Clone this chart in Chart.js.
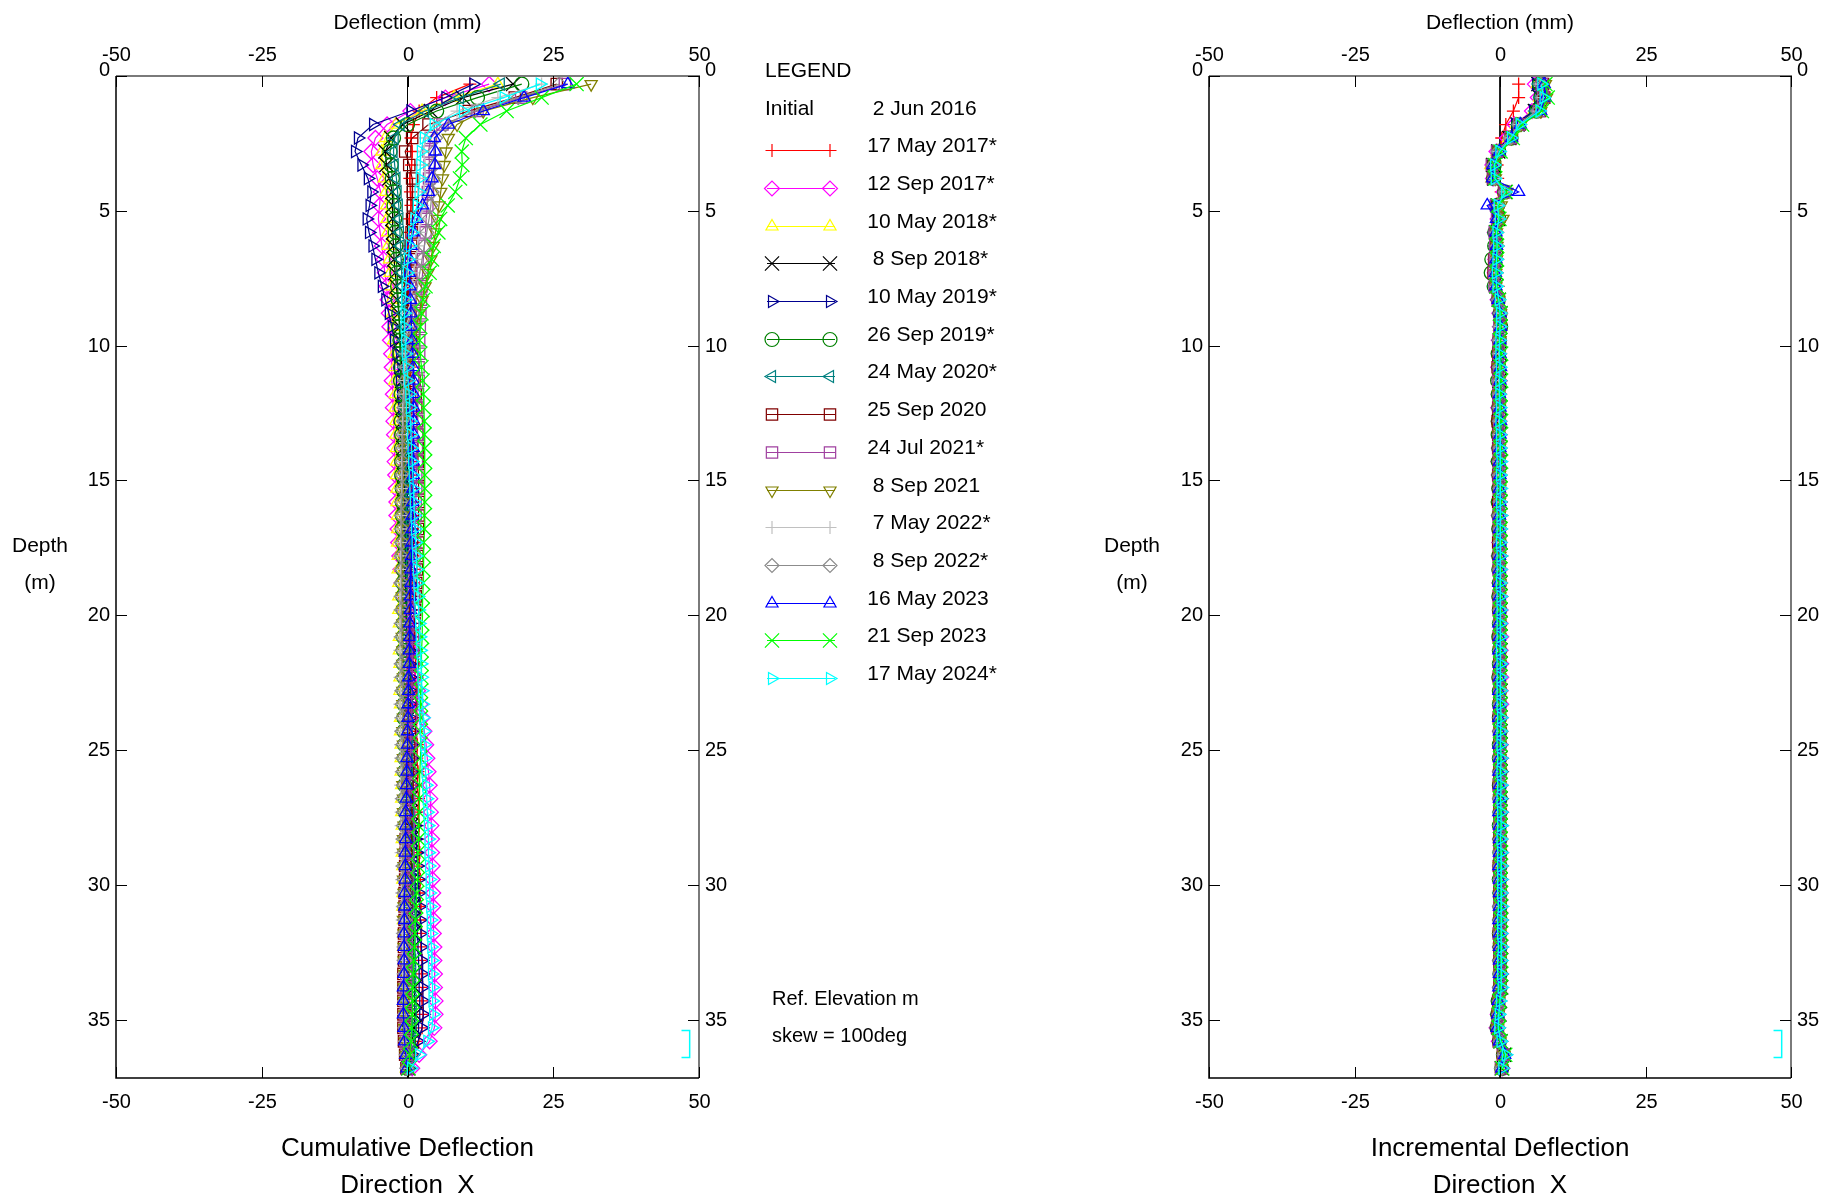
<!DOCTYPE html>
<html>
<head>
<meta charset="utf-8">
<title>Inclinometer deflection</title>
<script src="https://cdn.jsdelivr.net/npm/chart.js@4.4.1/dist/chart.umd.min.js"></script>
<style>
body { margin: 0; background: #fff; font-family: "Liberation Sans", Arial, sans-serif; }
#page { position: relative; width: 1826px; height: 1197px; overflow: hidden; background: #fff; }
.box { position: absolute; top: 0; height: 1197px; }
.txt { position: absolute; white-space: pre; color: #000; line-height: 1; }
</style>
</head>
<body>
<div id="page">
  <div class="box" style="left:0;width:1000px"><canvas id="cumChart"></canvas></div>
  <div class="box" style="left:1000px;width:826px"><canvas id="incChart"></canvas></div>
</div>
<script>
// reading depths (m)
var depthM = [
  0.3,0.8,1.3,1.8,2.3,2.8,3.3,3.8,4.3,4.8,
  5.3,5.8,6.3,6.8,7.3,7.8,8.3,8.8,9.3,9.8,
  10.3,10.8,11.3,11.8,12.3,12.8,13.3,13.8,14.3,14.8,
  15.3,15.8,16.3,16.8,17.3,17.8,18.3,18.8,19.3,19.8,
  20.3,20.8,21.3,21.8,22.3,22.8,23.3,23.8,24.3,24.8,
  25.3,25.8,26.3,26.8,27.3,27.8,28.3,28.8,29.3,29.8,
  30.3,30.8,31.3,31.8,32.3,32.8,33.3,33.8,34.3,34.8,
  35.3,35.8,36.3,36.8
];

var readDates = ['17 May 2017*', '12 Sep 2017*', '10 May 2018*', '8 Sep 2018*', '10 May 2019*',
  '26 Sep 2019*', '24 May 2020*', '25 Sep 2020', '24 Jul 2021*', '8 Sep 2021',
  '7 May 2022*', '8 Sep 2022*', '16 May 2023', '21 Sep 2023', '17 May 2024*'];

// cumulative deflection (mm)
var cum_2017_05_17 = [
  10.7,5.0,2.0,1.0,0.6,0.8,0.7,0.4,0.5,0.6,
  0.3,0.2,0.1,0.0,0.0,0.1,0.2,0.1,0.2,0.3,
  0.3,0.5,0.4,0.5,0.6,0.5,0.7,0.6,0.8,0.7,
  0.8,0.8,0.9,0.8,1.0,0.9,1.1,1.0,1.0,1.2,
  1.1,1.3,1.2,1.4,1.3,1.5,1.4,1.6,1.5,1.7,
  1.6,1.8,1.7,1.9,1.8,2.0,1.9,2.1,2.0,2.2,
  2.1,2.3,2.2,2.4,2.3,2.5,2.4,2.6,2.5,2.7,
  2.5,1.9,1.0,0.2];
var cum_2017_09_12 = [
  14.0,6.5,0.5,-3.5,-5.5,-6.2,-5.9,-5.2,-4.6,-4.8,
  -5.0,-4.7,-4.4,-4.1,-3.9,-3.6,-3.4,-3.2,-3.1,-3.0,
  -2.8,-2.7,-2.7,-2.5,-2.5,-2.4,-2.3,-2.2,-2.2,-2.1,
  -2.0,-1.9,-1.9,-1.7,-1.6,-1.4,-1.2,-1.0,-0.8,-0.5,
  -0.2,0.2,0.6,1.0,1.4,1.8,2.2,2.6,2.9,3.2,
  3.4,3.6,3.8,3.9,4.0,4.1,4.2,4.2,4.3,4.3,
  4.4,4.4,4.5,4.5,4.6,4.6,4.7,4.7,4.8,4.8,
  4.6,3.8,2.0,0.8];
var cum_2018_05_10 = [
  15.5,8.0,2.5,-2.0,-3.8,-4.4,-4.4,-4.0,-3.7,-3.6,
  -3.5,-3.4,-3.3,-3.1,-3.0,-2.8,-2.7,-2.6,-2.5,-2.4,
  -2.3,-2.2,-2.2,-2.1,-2.1,-2.0,-2.0,-1.9,-1.9,-1.9,
  -1.8,-1.8,-1.7,-1.7,-1.7,-1.6,-1.6,-1.5,-1.5,-1.5,
  -1.4,-1.4,-1.4,-1.3,-1.3,-1.3,-1.2,-1.2,-1.2,-1.1,
  -1.1,-1.1,-1.0,-1.0,-1.0,-0.9,-0.9,-0.9,-0.8,-0.8,
  -0.8,-0.8,-0.7,-0.7,-0.7,-0.6,-0.6,-0.6,-0.5,-0.5,
  -0.5,-0.4,-0.3,-0.2];
var cum_2018_09_08 = [
  18.1,9.5,4.0,-0.8,-2.8,-3.8,-3.6,-3.1,-2.6,-2.5,
  -2.6,-2.5,-2.4,-2.3,-2.1,-1.9,-1.7,-1.5,-1.3,-1.2,
  -1.1,-1.0,-0.9,-0.9,-0.8,-0.8,-0.7,-0.7,-0.6,-0.6,
  -0.6,-0.5,-0.5,-0.4,-0.4,-0.4,-0.3,-0.3,-0.2,-0.2,
  -0.2,-0.1,-0.1,0.0,0.0,0.1,0.1,0.2,0.2,0.3,
  0.3,0.4,0.4,0.5,0.5,0.6,0.6,0.7,0.7,0.8,
  0.8,0.9,0.9,1.0,1.0,1.1,1.1,1.2,1.2,1.3,
  1.1,0.8,0.4,0.1];
var cum_2019_05_10 = [
  11.3,6.5,0.5,-5.9,-8.5,-9.0,-7.9,-6.8,-6.2,-6.5,
  -7.0,-6.6,-6.0,-5.5,-5.0,-4.4,-3.8,-3.2,-2.7,-2.3,
  -1.9,-1.6,-1.3,-1.1,-0.9,-0.7,-0.5,-0.4,-0.3,-0.2,
  -0.1,0.0,0.1,0.1,0.2,0.2,0.3,0.3,0.3,0.4,
  0.4,0.4,0.4,0.4,0.5,0.5,0.5,0.5,0.6,0.6,
  0.7,0.8,0.9,1.0,1.1,1.3,1.4,1.6,1.7,1.9,
  2.0,2.1,2.2,2.3,2.4,2.5,2.6,2.6,2.7,2.7,
  2.5,1.8,0.9,0.2];
var cum_2019_09_26 = [
  19.6,12.0,5.0,0.0,-2.4,-3.0,-2.8,-2.6,-2.4,-2.3,
  -2.2,-2.1,-2.0,-1.9,-1.8,-1.7,-1.6,-1.5,-1.4,-1.3,
  -1.3,-1.2,-1.2,-1.1,-1.1,-1.1,-1.0,-1.0,-1.0,-1.0,
  -0.9,-0.9,-0.9,-0.9,-0.8,-0.8,-0.8,-0.8,-0.8,-0.7,
  -0.7,-0.7,-0.7,-0.7,-0.6,-0.6,-0.6,-0.6,-0.6,-0.5,
  -0.5,-0.5,-0.5,-0.4,-0.4,-0.4,-0.3,-0.3,-0.3,-0.2,
  -0.2,-0.1,-0.1,0.0,0.0,0.1,0.1,0.2,0.2,0.3,
  0.3,0.2,0.1,0.0];
var cum_2020_05_24 = [
  16.0,9.0,3.0,-1.2,-2.2,-2.4,-2.2,-1.9,-1.7,-1.5,
  -1.4,-1.3,-1.2,-1.1,-1.0,-0.9,-0.8,-0.7,-0.7,-0.6,
  -0.6,-0.5,-0.5,-0.5,-0.4,-0.4,-0.4,-0.3,-0.3,-0.3,
  -0.3,-0.2,-0.2,-0.2,-0.1,-0.1,-0.1,0.0,0.0,0.0,
  0.0,0.1,0.1,0.1,0.1,0.2,0.2,0.2,0.2,0.3,
  0.3,0.3,0.3,0.4,0.4,0.4,0.5,0.5,0.5,0.6,
  0.6,0.6,0.7,0.7,0.7,0.8,0.8,0.8,0.9,0.9,
  0.8,0.6,0.3,0.1];
var cum_2020_09_25 = [
  25.6,18.4,10.5,3.6,0.8,-0.4,0.3,0.8,0.9,0.9,
  0.8,0.7,0.6,0.6,0.5,0.5,0.5,0.5,0.6,0.6,
  0.8,1.0,1.2,1.4,1.5,1.6,1.7,1.8,1.8,1.9,
  1.9,1.9,1.9,1.8,1.8,1.7,1.6,1.5,1.4,1.3,
  1.2,1.1,1.0,0.9,0.8,0.7,0.6,0.5,0.4,0.3,
  0.2,0.1,0.0,-0.1,-0.2,-0.2,-0.3,-0.3,-0.4,-0.4,
  -0.5,-0.5,-0.5,-0.6,-0.6,-0.6,-0.7,-0.7,-0.7,-0.7,
  -0.7,-0.6,-0.4,-0.2];
var cum_2021_07_24 = [
  27.0,19.5,12.0,6.0,4.0,3.6,3.8,3.7,3.5,3.4,
  3.2,3.1,2.9,2.7,2.6,2.4,2.3,2.2,2.1,2.0,
  2.0,1.9,1.9,1.8,1.8,1.7,1.7,1.6,1.6,1.5,
  1.5,1.4,1.4,1.3,1.3,1.2,1.2,1.1,1.1,1.0,
  1.0,0.9,0.9,0.8,0.8,0.7,0.7,0.6,0.6,0.5,
  0.5,0.4,0.4,0.3,0.3,0.2,0.2,0.1,0.1,0.0,
  0.0,0.0,-0.1,-0.1,-0.1,-0.2,-0.2,-0.2,-0.3,-0.3,
  -0.3,-0.3,-0.2,-0.1];
var cum_2021_09_08 = [
  31.5,21.5,13.0,8.5,7.0,6.6,6.3,6.0,5.7,5.4,
  5.1,4.8,4.4,4.0,3.5,3.0,2.5,2.0,1.5,1.0,
  0.6,0.3,0.0,-0.2,-0.3,-0.4,-0.5,-0.6,-0.6,-0.7,
  -0.7,-0.7,-0.8,-0.8,-0.8,-0.9,-0.8,-0.8,-0.9,-0.8,
  -0.8,-0.9,-0.8,-0.8,-0.7,-0.8,-0.8,-0.7,-0.8,-0.7,
  -0.7,-0.7,-0.8,-0.7,-0.7,-0.6,-0.7,-0.7,-0.6,-0.7,
  -0.6,-0.6,-0.7,-0.6,-0.6,-0.6,-0.5,-0.6,-0.6,-0.5,
  -0.5,-0.4,-0.3,-0.1];
var cum_2022_05_07 = [
  23.0,15.5,8.5,4.5,3.0,2.8,3.0,3.0,2.8,2.6,
  2.3,2.0,1.7,1.4,1.1,0.8,0.5,0.2,0.0,-0.2,
  -0.4,-0.5,-0.6,-0.7,-0.8,-0.8,-0.9,-0.9,-1.0,-1.0,
  -1.0,-1.1,-1.1,-1.1,-1.2,-1.2,-1.2,-1.2,-1.3,-1.3,
  -1.3,-1.3,-1.3,-1.3,-1.3,-1.2,-1.3,-1.2,-1.2,-1.2,
  -1.2,-1.1,-1.2,-1.1,-1.1,-1.1,-1.0,-1.1,-1.0,-1.0,
  -1.0,-0.9,-0.9,-0.9,-0.8,-0.8,-0.8,-0.7,-0.7,-0.7,
  -0.6,-0.5,-0.3,-0.1];
var cum_2022_09_08 = [
  26.0,19.0,11.5,6.5,4.8,4.6,4.6,4.4,4.2,4.0,
  3.7,3.3,2.9,2.5,2.1,1.7,1.3,0.9,0.6,0.3,
  0.0,-0.2,-0.4,-0.5,-0.6,-0.7,-0.8,-0.8,-0.9,-0.9,
  -0.9,-1.0,-1.0,-1.0,-1.0,-1.1,-1.0,-1.1,-1.0,-1.0,
  -1.0,-1.0,-0.9,-1.0,-0.9,-0.9,-0.9,-0.8,-0.9,-0.8,
  -0.8,-0.8,-0.7,-0.8,-0.7,-0.7,-0.7,-0.6,-0.7,-0.6,
  -0.6,-0.6,-0.5,-0.6,-0.5,-0.5,-0.4,-0.5,-0.4,-0.4,
  -0.4,-0.3,-0.2,-0.1];
var cum_2023_05_16 = [
  27.5,20.0,13.0,7.0,4.6,4.8,4.7,4.2,3.6,2.6,
  1.6,1.0,0.6,0.4,0.3,0.4,0.5,0.6,0.7,0.8,
  0.9,1.0,1.0,1.1,1.1,1.1,1.1,1.0,1.0,1.0,
  0.9,0.9,0.8,0.8,0.7,0.7,0.6,0.6,0.5,0.5,
  0.4,0.4,0.3,0.3,0.2,0.2,0.1,0.1,0.0,0.0,
  -0.1,-0.1,-0.2,-0.2,-0.3,-0.3,-0.3,-0.4,-0.4,-0.4,
  -0.5,-0.5,-0.5,-0.6,-0.6,-0.6,-0.6,-0.7,-0.7,-0.7,
  -0.6,-0.5,-0.3,-0.1];
var cum_2023_09_21 = [
  29.0,23.0,17.0,12.5,10.0,9.3,9.4,9.0,8.2,6.9,
  5.6,5.3,4.5,4.2,3.8,3.1,2.7,2.4,2.2,2.1,
  2.2,2.4,2.6,2.7,2.8,2.9,2.9,3.0,3.0,3.0,
  3.0,3.0,2.9,2.9,2.8,2.8,2.7,2.7,2.6,2.6,
  2.5,2.5,2.4,2.4,2.4,2.3,2.3,2.3,2.2,2.2,
  2.2,2.1,2.1,2.0,2.0,1.9,1.9,1.8,1.8,1.7,
  1.6,1.5,1.4,1.3,1.2,1.1,1.0,0.9,0.9,0.8,
  0.7,0.6,0.4,0.2];
var cum_2024_05_17 = [
  22.7,16.5,9.5,4.5,2.8,2.3,2.2,2.1,1.9,1.6,
  1.2,0.8,0.4,0.1,-0.1,-0.3,-0.4,-0.5,-0.5,-0.4,
  -0.3,-0.1,0.1,0.3,0.4,0.5,0.6,0.7,0.8,0.9,
  1.0,1.1,1.2,1.3,1.4,1.5,1.6,1.7,1.8,1.9,
  2.0,2.1,2.2,2.3,2.4,2.5,2.6,2.7,2.8,2.9,
  3.0,3.1,3.2,3.3,3.4,3.5,3.6,3.6,3.7,3.8,
  3.8,3.9,4.0,4.0,4.1,4.2,4.2,4.3,4.3,4.4,
  4.2,3.4,2.0,0.6];

// incremental deflection (mm)
var inc_2017_05_17 = [
  3.2,3.2,2.3,1.0,0.3,-0.2,-0.5,-0.4,0.2,-0.3,
  -0.2,-0.4,-0.3,-0.4,-0.5,-0.3,-0.1,0.0,0.1,0.0,
  0.1,0.0,0.2,0.1,0.0,0.1,0.2,0.1,0.0,0.1,
  0.1,0.2,0.0,0.1,0.1,0.0,0.2,0.1,0.1,0.0,
  0.1,0.2,0.1,0.0,0.1,0.1,0.2,0.0,0.1,0.1,
  0.0,0.1,0.2,0.1,0.1,0.0,0.1,0.2,0.1,0.0,
  0.1,0.1,0.2,0.1,0.0,0.1,0.1,0.2,-0.1,-0.2,
  -0.3,0.0,0.6,0.3];
var inc_2017_09_12 = [
  6.0,6.5,5.5,2.5,1.2,-0.6,-1.3,-1.2,0.6,-0.6,
  -0.4,-0.9,-0.7,-0.8,-0.9,-0.8,-0.4,-0.1,0.0,-0.2,
  -0.2,-0.3,-0.1,-0.2,-0.3,-0.2,-0.1,-0.2,-0.3,-0.2,
  -0.1,-0.2,-0.2,-0.1,-0.1,-0.2,0.0,-0.1,0.0,0.1,
  0.1,0.2,0.1,0.2,0.2,0.1,0.2,0.1,0.0,0.1,
  0.1,0.0,0.1,0.0,0.1,0.0,0.0,0.1,0.0,0.0,
  0.1,0.0,0.0,0.1,0.0,0.0,0.1,0.0,-0.2,-0.4,
  -0.6,-0.2,0.8,0.4];
var inc_2018_05_10 = [
  6.4,6.8,5.8,2.8,1.5,-0.5,-1.6,-1.4,0.7,-0.5,
  -0.3,-0.8,-0.6,-0.7,-0.8,-0.7,-0.3,0.0,-0.1,-0.1,
  -0.3,-0.2,-0.3,-0.2,-0.2,-0.3,-0.2,-0.1,-0.2,-0.2,
  -0.1,-0.2,-0.1,-0.1,-0.2,-0.1,-0.1,0.0,-0.1,-0.1,
  0.0,-0.1,0.0,-0.1,0.0,0.0,-0.1,0.0,0.0,-0.1,
  0.0,0.0,-0.1,0.0,0.0,0.0,-0.1,0.0,0.0,0.0,
  -0.1,0.0,0.0,0.0,-0.1,0.0,0.0,-0.1,-0.2,-0.3,
  -0.4,-0.1,0.5,0.2];
var inc_2018_09_08 = [
  6.6,6.9,6.0,3.0,1.6,-0.3,-1.2,-1.0,0.9,-0.4,
  -0.3,-0.7,-0.6,-0.6,-0.7,-0.6,-0.2,0.1,0.0,0.0,
  -0.1,0.0,-0.1,0.0,0.0,-0.1,0.0,0.1,0.0,0.0,
  0.0,0.1,0.0,0.0,0.1,0.0,0.0,0.1,0.0,0.1,
  0.1,0.0,0.1,0.1,0.0,0.1,0.1,0.0,0.1,0.1,
  0.1,0.1,0.0,0.1,0.1,0.1,0.0,0.1,0.1,0.1,
  0.1,0.2,0.1,0.1,0.2,0.1,0.1,0.2,0.0,-0.1,
  -0.2,0.1,0.7,0.3];
var inc_2019_05_10 = [
  6.2,6.6,5.7,2.6,1.4,-0.6,-1.5,-1.3,0.6,-0.8,
  -0.5,-1.0,-0.8,-0.7,-0.8,-0.9,-0.4,-0.1,-0.1,-0.2,
  -0.2,-0.3,-0.2,-0.2,-0.1,-0.2,-0.1,-0.1,0.0,-0.1,
  0.0,0.0,0.1,0.0,0.0,0.1,0.0,0.0,0.1,0.0,
  0.0,0.0,0.0,0.1,0.0,0.0,0.0,0.1,0.1,0.1,
  0.2,0.2,0.1,0.2,0.2,0.2,0.1,0.2,0.2,0.2,
  0.1,0.2,0.2,0.1,0.2,0.1,0.2,0.1,-0.1,-0.3,
  -0.3,0.1,0.9,0.4];
var inc_2019_09_26 = [
  6.8,7.0,6.3,3.2,1.9,-0.2,-1.0,-1.1,0.8,-0.4,
  -0.2,-0.9,-0.9,-1.4,-1.5,-1.0,-0.3,0.0,0.1,-0.1,
  -0.3,-0.2,-0.4,-0.3,-0.2,-0.3,-0.3,-0.2,-0.3,-0.2,
  -0.2,-0.3,-0.2,-0.2,-0.1,-0.2,-0.2,-0.1,-0.2,-0.1,
  -0.1,-0.2,-0.1,-0.1,-0.2,-0.1,-0.1,-0.1,0.0,-0.1,
  -0.1,0.0,-0.1,0.0,0.0,-0.1,0.0,0.0,0.0,-0.1,
  0.0,0.0,0.0,-0.1,0.0,0.0,0.0,0.0,-0.3,-0.4,
  -0.5,-0.1,0.6,0.3];
var inc_2020_05_24 = [
  6.7,7.0,6.1,3.1,1.8,-0.2,-1.0,-0.9,0.9,-0.5,
  -0.3,-0.7,-0.6,-0.6,-0.7,-0.8,-0.3,0.0,0.0,-0.1,
  0.0,-0.1,0.0,0.1,0.0,-0.1,0.0,0.0,0.1,0.0,
  0.0,0.1,0.0,0.0,0.0,0.1,0.0,0.1,0.0,0.0,
  0.1,0.0,0.0,0.1,0.0,0.1,0.0,0.0,0.1,0.0,
  0.0,0.1,0.0,0.1,0.0,0.0,0.1,0.0,0.1,0.0,
  0.0,0.1,0.0,0.0,0.1,0.0,0.1,0.0,-0.1,-0.2,
  -0.3,0.0,0.7,0.3];
var inc_2020_09_25 = [
  7.4,7.6,6.9,3.4,1.9,-0.4,-1.3,-1.2,0.7,-0.6,
  -0.4,-0.8,-0.7,-1.0,-1.1,-0.8,-0.3,0.0,0.0,-0.2,
  -0.3,-0.4,-0.3,-0.2,-0.3,-0.4,-0.3,-0.3,-0.2,-0.3,
  -0.2,-0.3,-0.2,-0.2,-0.3,-0.2,-0.2,-0.1,-0.2,-0.2,
  -0.1,-0.2,-0.1,-0.1,-0.2,-0.1,-0.1,-0.2,-0.1,-0.1,
  -0.1,-0.1,-0.2,-0.1,-0.1,-0.1,-0.1,-0.1,-0.2,-0.1,
  -0.1,-0.1,-0.1,-0.2,-0.1,-0.1,-0.1,-0.1,-0.3,-0.4,
  -0.5,-0.2,0.5,0.2];
var inc_2021_07_24 = [
  7.2,7.4,6.7,3.3,1.8,-0.5,-1.4,-1.1,0.8,-0.7,
  -0.5,-0.9,-0.8,-0.9,-1.0,-0.9,-0.4,0.0,-0.1,-0.2,
  -0.2,-0.2,-0.3,-0.2,-0.2,-0.1,-0.2,-0.2,-0.1,-0.2,
  -0.1,-0.1,-0.2,-0.1,-0.1,-0.1,-0.2,-0.1,-0.1,-0.1,
  -0.1,-0.1,-0.1,0.0,-0.1,-0.1,0.0,-0.1,-0.1,0.0,
  -0.1,0.0,-0.1,-0.1,0.0,-0.1,0.0,-0.1,0.0,-0.1,
  0.0,-0.1,0.0,-0.1,0.0,0.0,-0.1,0.0,-0.2,-0.3,
  -0.4,-0.1,0.6,0.2];
var inc_2021_09_08 = [
  7.8,8.0,7.0,3.6,2.0,-0.2,-0.9,-0.8,1.2,0.2,
  0.5,-0.6,-0.5,-0.6,-0.7,-0.7,-0.2,0.1,0.1,0.0,
  -0.1,-0.2,-0.1,-0.2,-0.1,-0.1,-0.2,-0.1,-0.1,-0.1,
  0.0,-0.1,-0.1,0.0,-0.1,0.0,-0.1,0.0,0.0,-0.1,
  0.0,0.0,-0.1,0.0,0.0,0.0,-0.1,0.0,0.0,0.0,
  0.0,0.0,0.0,-0.1,0.0,0.0,0.0,0.0,-0.1,0.0,
  0.0,0.0,0.0,0.0,-0.1,0.0,0.0,0.0,-0.2,-0.3,
  -0.4,0.0,0.7,0.3];
var inc_2022_05_07 = [
  6.9,7.2,6.4,3.2,1.7,-0.3,-1.1,-1.0,0.8,-0.4,
  -0.3,-0.7,-0.6,-0.6,-0.8,-0.7,-0.3,0.0,0.0,-0.1,
  -0.2,-0.1,-0.2,-0.1,-0.1,-0.2,-0.1,-0.1,-0.1,-0.2,
  -0.1,-0.1,0.0,-0.1,-0.1,0.0,-0.1,0.0,0.0,-0.1,
  0.0,0.0,0.0,-0.1,0.0,0.0,0.0,0.0,-0.1,0.0,
  0.0,0.0,0.0,0.0,0.0,-0.1,0.0,0.0,0.0,0.0,
  0.0,0.0,0.0,0.0,0.0,0.0,0.0,-0.1,-0.2,-0.3,
  -0.3,0.0,0.6,0.2];
var inc_2022_09_08 = [
  7.0,7.3,6.5,3.3,1.8,-0.3,-1.1,-1.0,0.9,-0.3,
  -0.2,-0.6,-0.5,-0.6,-0.7,-0.7,-0.2,0.1,0.0,-0.1,
  -0.1,-0.1,0.0,-0.1,-0.1,0.0,-0.1,0.0,-0.1,0.0,
  0.0,0.0,-0.1,0.0,0.0,0.0,0.0,0.1,0.0,0.0,
  0.0,0.1,0.0,0.0,0.0,0.1,0.0,0.0,0.1,0.0,
  0.0,0.0,0.1,0.0,0.0,0.0,0.1,0.0,0.0,0.0,
  0.1,0.0,0.0,0.0,0.1,0.0,0.0,0.0,-0.1,-0.2,
  -0.3,0.0,0.7,0.3];
var inc_2023_05_16 = [
  7.6,7.8,7.0,3.5,2.0,-0.1,-1.2,-1.3,3.2,-2.2,
  -0.6,-0.7,-0.6,-0.7,-0.8,-0.7,-0.3,0.0,0.1,0.0,
  0.0,0.1,0.0,-0.1,0.0,0.1,0.0,0.0,-0.1,0.0,
  -0.1,0.0,-0.1,-0.1,0.0,-0.1,-0.1,-0.2,-0.1,-0.1,
  -0.2,-0.1,-0.2,-0.1,-0.1,-0.2,-0.1,-0.2,-0.1,-0.2,
  -0.1,-0.2,-0.1,-0.1,-0.2,-0.1,-0.1,-0.1,-0.2,-0.1,
  -0.1,-0.1,-0.2,-0.1,-0.1,-0.1,-0.1,-0.2,-0.3,-0.4,
  -0.5,-0.1,0.8,0.3];
var inc_2023_09_21 = [
  7.8,8.2,7.2,3.8,2.2,0.1,-0.9,-0.8,1.0,-0.3,
  -0.1,-0.6,-0.5,-0.5,-0.6,-0.6,-0.2,0.1,0.1,0.0,
  0.2,0.1,0.2,0.1,0.1,0.2,0.1,0.1,0.2,0.1,
  0.1,0.1,0.0,0.1,0.1,0.0,0.1,0.0,0.1,0.0,
  0.1,0.0,0.0,0.1,0.0,0.0,0.1,0.0,0.0,0.1,
  0.0,0.1,0.1,0.0,0.1,0.1,0.1,0.2,0.1,0.1,
  0.2,0.1,0.2,0.2,0.1,0.2,0.2,0.1,-0.1,-0.2,
  -0.2,0.1,0.9,0.4];
var inc_2024_05_17 = [
  7.1,7.5,6.8,3.4,1.9,-0.1,-1.0,-0.9,0.9,-0.4,
  -0.2,-0.6,-0.5,-0.6,-0.7,-0.6,-0.2,0.0,0.0,-0.1,
  -0.1,0.0,-0.1,-0.1,0.0,-0.1,0.0,0.0,0.1,0.0,
  0.1,0.0,0.1,0.1,0.0,0.1,0.1,0.0,0.1,0.1,
  0.1,0.1,0.0,0.1,0.1,0.1,0.1,0.2,0.1,0.1,
  0.2,0.1,0.2,0.1,0.2,0.2,0.1,0.2,0.2,0.2,
  0.2,0.3,0.2,0.2,0.3,0.2,0.2,0.3,0.0,-0.2,
  -0.3,0.1,1.0,0.4];

var cumSeries = [cum_2017_05_17, cum_2017_09_12, cum_2018_05_10, cum_2018_09_08, cum_2019_05_10,
  cum_2019_09_26, cum_2020_05_24, cum_2020_09_25, cum_2021_07_24, cum_2021_09_08,
  cum_2022_05_07, cum_2022_09_08, cum_2023_05_16, cum_2023_09_21, cum_2024_05_17];
var incSeries = [inc_2017_05_17, inc_2017_09_12, inc_2018_05_10, inc_2018_09_08, inc_2019_05_10,
  inc_2019_09_26, inc_2020_05_24, inc_2020_09_25, inc_2021_07_24, inc_2021_09_08,
  inc_2022_05_07, inc_2022_09_08, inc_2023_05_16, inc_2023_09_21, inc_2024_05_17];

// axis ticks and limits
var deflTicks = [-50, -25, 0, 25, 50];
var depthTicks = [0, 5, 10, 15, 20, 25, 30, 35];
var deflMin = -50, deflMax = 50, depthMax = 37.16;

// zero reference line and the small marker bracket near the bottom
var zeroDefl = [0, 0];
var zeroDepth = [0, 37.16];
var bracketDefl = [47.0, 48.4, 48.4, 47.0];
var bracketDepth = [35.4, 35.4, 36.4, 36.4];

// styles
var lineColors = ['#ff0000', '#ff00ff', '#ffff00', '#000000', '#000090',
  '#008000', '#008080', '#800000', '#a040a0', '#808000',
  '#c0c0c0', '#8c8c8c', '#0000ff', '#00ff00', '#00ffff'];
var markStyles = ['cross', 'rectRot', 'triangle', 'crossRot', 'triangle',
  'circle', 'triangle', 'rect', 'rect', 'triangle',
  'cross', 'rectRot', 'triangle', 'crossRot', 'triangle'];
var markTurns = [0, 0, 0, 0, 90, 0, 270, 0, 0, 180, 0, 0, 0, 0, 90];
var markSizes = [6.5, 7.5, 7, 10, 7, 7, 7, 8, 8, 7, 6.5, 7, 7, 10, 7];

var FONT = '"Liberation Sans", Arial, sans-serif';

function buildSets(series) {
    var sets = series.map(function(vals, i) {
        return {
            label: readDates[i],
            data: vals.map(function(v, k) { return { x: v, y: depthM[k] }; }),
            showLine: true,
            borderColor: lineColors[i],
            borderWidth: 1.2,
            pointStyle: markStyles[i],
            pointRotation: markTurns[i],
            pointRadius: markSizes[i],
            pointBorderColor: lineColors[i],
            pointBackgroundColor: 'rgba(0,0,0,0)',
            pointBorderWidth: 1.3,
            order: series.length - i
        };
    });
    sets.push({
        data: zeroDefl.map(function(v, k) { return { x: v, y: zeroDepth[k] }; }),
        showLine: true, borderColor: '#000', borderWidth: 1, pointRadius: 0, order: 99
    });
    sets.push({
        data: bracketDefl.map(function(v, k) { return { x: v, y: bracketDepth[k] }; }),
        showLine: true, borderColor: '#00ffff', borderWidth: 1.5, pointRadius: 0, order: 0
    });
    return sets;
}

// border, inside ticks and tick labels on all four sides
var framePlugin = {
    id: 'frame',
    afterDraw: function(chart) {
        var ctx = chart.ctx, a = chart.chartArea;
        var xs = chart.scales.x, ys = chart.scales.y;
        ctx.save();
        ctx.lineWidth = 2;
        ctx.strokeStyle = '#7a7a7a';
        ctx.beginPath();
        ctx.moveTo(a.left, a.top); ctx.lineTo(a.right, a.top); ctx.lineTo(a.right, a.bottom);
        ctx.stroke();
        ctx.lineWidth = 1.5;
        ctx.strokeStyle = '#000';
        ctx.beginPath();
        ctx.moveTo(a.left, a.top); ctx.lineTo(a.left, a.bottom); ctx.lineTo(a.right, a.bottom);
        ctx.stroke();

        ctx.lineWidth = 1;
        ctx.fillStyle = '#000';
        ctx.font = '20px ' + FONT;
        ctx.textBaseline = 'middle';
        ctx.textAlign = 'center';
        deflTicks.forEach(function(v) {
            var px = Math.round(xs.getPixelForValue(v)) + 0.5;
            ctx.beginPath();
            ctx.moveTo(px, a.top); ctx.lineTo(px, a.top + 11);
            ctx.moveTo(px, a.bottom); ctx.lineTo(px, a.bottom - 11);
            ctx.stroke();
            ctx.fillText(String(v), px, a.top - 21);
            ctx.fillText(String(v), px, a.bottom + 24);
        });
        depthTicks.forEach(function(v) {
            var py = Math.round(ys.getPixelForValue(v)) + 0.5;
            ctx.beginPath();
            ctx.moveTo(a.left, py); ctx.lineTo(a.left + 11, py);
            ctx.moveTo(a.right, py); ctx.lineTo(a.right - 11, py);
            ctx.stroke();
            var ly = v === 0 ? py - 6 : py;
            ctx.textAlign = 'right';
            ctx.fillText(String(v), a.left - 6, ly);
            ctx.textAlign = 'left';
            ctx.fillText(String(v), a.right + 6, ly);
            ctx.textAlign = 'center';
        });
        ctx.restore();
    }
};

// legend samples between the two plots
var legendX0 = 767, legendX1 = 835, legendMarks = [772, 830];
var legendTop = 144.4, legendStep = 37.68;

var legendPlugin = {
    id: 'sampleLegend',
    afterDraw: function(chart) {
        var ctx = chart.ctx;
        ctx.save();
        readDates.forEach(function(t, i) {
            var yy = Math.round(legendTop + i * legendStep + 6) + 0.5;
            ctx.strokeStyle = lineColors[i];
            ctx.fillStyle = 'rgba(0,0,0,0)';
            ctx.lineWidth = 1.2;
            ctx.beginPath();
            ctx.moveTo(legendX0, yy); ctx.lineTo(legendX1, yy);
            ctx.stroke();
            if (Chart.helpers && Chart.helpers.drawPoint) {
                legendMarks.forEach(function(xx) {
                    Chart.helpers.drawPoint(ctx, {
                        pointStyle: markStyles[i], rotation: markTurns[i],
                        radius: markSizes[i], borderWidth: 1.2
                    }, xx, yy);
                });
            }
        });
        ctx.restore();
    }
};

function makeChart(id, series, pad, extra) {
    return new Chart(document.getElementById(id), {
        type: 'scatter',
        data: { datasets: buildSets(series) },
        options: {
            responsive: true,
            maintainAspectRatio: false,
            animation: false,
            events: [],
            layout: { padding: pad },
            plugins: { legend: { display: false }, tooltip: { enabled: false } },
            elements: { line: { tension: 0 } },
            scales: {
                x: { type: 'linear', min: deflMin, max: deflMax, display: false },
                y: { type: 'linear', min: 0, max: depthMax, reverse: true, display: false }
            }
        },
        plugins: [framePlugin].concat(extra)
    });
}

makeChart('cumChart', cumSeries, { left: 116, right: 301, top: 76, bottom: 119 }, [legendPlugin]);
makeChart('incChart', incSeries, { left: 209, right: 35, top: 76, bottom: 119 }, []);

// page text
var page = document.getElementById('page');
function addText(str, x, y, align, size) {
    var d = document.createElement('div');
    d.className = 'txt';
    d.textContent = str;
    d.style.left = x + 'px';
    d.style.top = y + 'px';
    d.style.fontSize = size + 'px';
    d.style.transform = align === 'center' ? 'translate(-50%, -50%)' : 'translate(0, -50%)';
    page.appendChild(d);
}

addText('Deflection (mm)', 407.5, 21, 'center', 21);
addText('Deflection (mm)', 1500, 21, 'center', 21);
addText('Depth', 40, 544, 'center', 21);
addText('(m)', 40, 581, 'center', 21);
addText('Depth', 1132, 544, 'center', 21);
addText('(m)', 1132, 581, 'center', 21);
addText('Cumulative Deflection', 407.5, 1147, 'center', 26);
addText('Direction  X', 407.5, 1184, 'center', 26);
addText('Incremental Deflection', 1500, 1147, 'center', 26);
addText('Direction  X', 1500, 1184, 'center', 26);

addText('LEGEND', 765, 69, 'left', 21);
addText('Initial', 765, 107, 'left', 21);
addText('2 Jun 2016', 872.7, 107, 'left', 21);
readDates.forEach(function(t, i) {
    var shift = /^\d /.test(t) ? 5.4 : 0;
    addText(t, 867.3 + shift, legendTop + i * legendStep, 'left', 21);
});
addText('Ref. Elevation m', 772, 998, 'left', 20);
addText('skew = 100deg', 772, 1035, 'left', 20);
</script>
</body>
</html>
